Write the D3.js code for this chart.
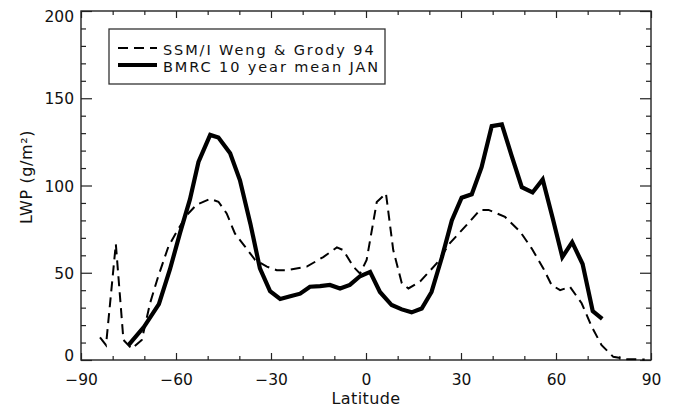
<!DOCTYPE html>
<html>
<head>
<meta charset="utf-8">
<script src="https://cdn.jsdelivr.net/npm/d3@7"></script>
<style>
  html, body { margin: 0; padding: 0; background: #fff; }
  svg { display: block; }
  text { font-family: "DejaVu Sans", sans-serif; fill: #111; }
</style>
</head>
<body>
<svg id="chart" width="677" height="408"></svg>
<script>
// Zonal mean liquid water path, January: satellite retrieval vs. model climatology
const ssmiLat = [-84.0, -82.1, -79.0, -76.6, -74.0, -70.8, -68.2, -65.6, -62.4, -59.8,
  -56.6, -53.5, -49.2, -46.6, -44.0, -41.4, -38.2, -35.0, -31.3, -28.2,
  -25.0, -18.7, -13.5, -9.2, -7.2, -4.0, -1.9, 0.2, 3.4, 6.3,
  8.6, 11.3, 13.4, 17.1, 22.3, 26.5, 31.8, 36.0, 38.7, 43.9,
  48.7, 52.3, 56.0, 58.6, 61.3, 64.4, 68.1, 71.3, 74.4, 78.1,
  82.3, 88.0];
const ssmiLwp = [13, 8.5, 66.5, 11.5, 6.5, 11.5, 32.5, 48, 65, 73.5,
  83, 89, 92.3, 90.7, 84, 72.5, 65, 57.3, 53.5, 51.5,
  51.5, 53.5, 59, 64.5, 63, 53.5, 49.5, 57.3, 90.5, 95.5,
  63, 44, 41, 45, 55.3, 67, 77.4, 86, 86, 82,
  73.5, 64, 52.5, 43, 40, 42, 32.5, 19, 8.5, 1.8,
  0.5, 0.3];

const bmrcLat = [-75.0, -70.1, -65.4, -61.9, -58.7, -55.6, -52.9, -49.2, -46.6, -42.9,
  -39.8, -36.5, -33.5, -30.3, -27.1, -23.9, -20.8, -17.7, -14.5, -11.4,
  -8.2, -5.1, -1.9, 1.3, 4.4, 8.1, 11.3, 14.4, 17.6, 20.7,
  24.0, 27.1, 30.2, 33.4, 36.5, 39.7, 42.9, 46.0, 49.2, 52.6,
  55.8, 59.0, 62.0, 65.1, 68.4, 71.6, 74.6];
const bmrcLwp = [8.5, 19, 32, 52, 73, 92, 113.5, 129, 127.5, 118.5,
  103, 78, 52.5, 39.5, 35, 36.5, 38, 42, 42.3, 43,
  41, 43, 48, 50.5, 39, 31.5, 29, 27.3, 29.5, 39,
  59, 80, 93, 95, 110.5, 134, 135, 117, 99, 96,
  103.5, 81, 59, 67.5, 55, 28, 23.5];

const xMajor = [-90, -60, -30, 0, 30, 60, 90];
const yMajor = [0, 50, 100, 150, 200];
const seriesNames = ["SSM/I Weng & Grody 94", "BMRC 10 year mean JAN"];

const svg = d3.select("#chart");
const plotL = 81, plotR = 651, plotT = 11, plotB = 360;

const x = d3.scaleLinear().domain([-90, 90]).range([plotL, plotR]);
const y = d3.scaleLinear().domain([0, 200]).range([plotB, plotT]);

const fmt = d => (d < 0 ? "\u2212" + Math.abs(d) : String(d));
const xMinor = d3.range(-90, 91, 10).filter(d => !xMajor.includes(d));
const yMinor = d3.range(0, 201, 10).filter(d => !yMajor.includes(d));

function styleAxis(g) {
  g.select(".domain").remove();
  g.selectAll(".tick line").attr("stroke", "#222").attr("stroke-width", 1.2);
}

// bottom axis with labels
svg.append("g").attr("transform", `translate(0,${plotB})`)
  .call(d3.axisBottom(x).tickValues(xMajor).tickFormat(fmt).tickSizeInner(-7).tickSizeOuter(0).tickPadding(14))
  .call(styleAxis)
  .call(g => g.selectAll("text").style("font-size", "15.5px").attr("fill", "#111"));
svg.append("g").attr("transform", `translate(0,${plotB})`)
  .call(d3.axisBottom(x).tickValues(xMinor).tickFormat("").tickSizeInner(-4).tickSizeOuter(0))
  .call(styleAxis);
// top axis, ticks only
svg.append("g").attr("transform", `translate(0,${plotT})`)
  .call(d3.axisTop(x).tickValues(xMajor).tickFormat("").tickSizeInner(-7).tickSizeOuter(0))
  .call(styleAxis);
svg.append("g").attr("transform", `translate(0,${plotT})`)
  .call(d3.axisTop(x).tickValues(xMinor).tickFormat("").tickSizeInner(-4).tickSizeOuter(0))
  .call(styleAxis);

// left axis with labels; the end labels are kept inside the axis span
svg.append("g").attr("transform", `translate(${plotL},0)`)
  .call(d3.axisLeft(y).tickValues(yMajor).tickFormat(fmt).tickSizeInner(-11).tickSizeOuter(0).tickPadding(7))
  .call(styleAxis)
  .call(g => g.selectAll("text")
    .style("font-size", "15.5px").attr("fill", "#111")
    .attr("dy", d => d === 0 ? "0.05em" : d === 200 ? "0.7em" : "0.36em"));
svg.append("g").attr("transform", `translate(${plotL},0)`)
  .call(d3.axisLeft(y).tickValues(yMinor).tickFormat("").tickSizeInner(-5).tickSizeOuter(0))
  .call(styleAxis);
// right axis, ticks only
svg.append("g").attr("transform", `translate(${plotR},0)`)
  .call(d3.axisRight(y).tickValues(yMajor).tickFormat("").tickSizeInner(-11).tickSizeOuter(0))
  .call(styleAxis);
svg.append("g").attr("transform", `translate(${plotR},0)`)
  .call(d3.axisRight(y).tickValues(yMinor).tickFormat("").tickSizeInner(-5).tickSizeOuter(0))
  .call(styleAxis);

// plot frame
svg.append("rect")
  .attr("x", plotL).attr("y", plotT)
  .attr("width", plotR - plotL).attr("height", plotB - plotT)
  .attr("fill", "none").attr("stroke", "#222").attr("stroke-width", 1.4);

// axis titles
svg.append("text")
  .attr("x", x(0)).attr("y", 404)
  .attr("text-anchor", "middle")
  .style("font-size", "16px").style("letter-spacing", "0.4px")
  .text("Latitude");

svg.append("text")
  .attr("transform", "translate(32,177) rotate(-90)")
  .attr("text-anchor", "middle")
  .style("font-size", "16px").style("letter-spacing", "0.6px")
  .text("LWP (g/m\u00B2)");

// curves
const line = d3.line().x(d => x(d[0])).y(d => y(d[1]));
const ssmi = d3.zip(ssmiLat, ssmiLwp);
const bmrc = d3.zip(bmrcLat, bmrcLwp);

svg.append("path").datum(bmrc)
  .attr("d", line)
  .attr("fill", "none").attr("stroke", "#000")
  .attr("stroke-width", 4.2).attr("stroke-linejoin", "miter");

svg.append("path").datum(ssmi)
  .attr("d", line)
  .attr("fill", "none").attr("stroke", "#000")
  .attr("stroke-width", 2).attr("stroke-dasharray", "10,6");

// legend
const lg = svg.append("g");
lg.append("rect")
  .attr("x", 109).attr("y", 29).attr("width", 276).attr("height", 55)
  .attr("fill", "#fff").attr("stroke", "#333").attr("stroke-width", 1.3);
const legendRows = [
  { name: seriesNames[0], width: 2, dash: "10,6", y: 48 },
  { name: seriesNames[1], width: 4.2, dash: null, y: 65 }
];
legendRows.forEach(r => {
  lg.append("line")
    .attr("x1", 118).attr("x2", 157).attr("y1", r.y).attr("y2", r.y)
    .attr("stroke", "#000").attr("stroke-width", r.width)
    .attr("stroke-dasharray", r.dash);
  lg.append("text")
    .attr("x", 163).attr("y", r.y + 6.5)
    .style("font-size", "14.5px").style("letter-spacing", "1.9px")
    .text(r.name);
});
</script>
</body>
</html>
